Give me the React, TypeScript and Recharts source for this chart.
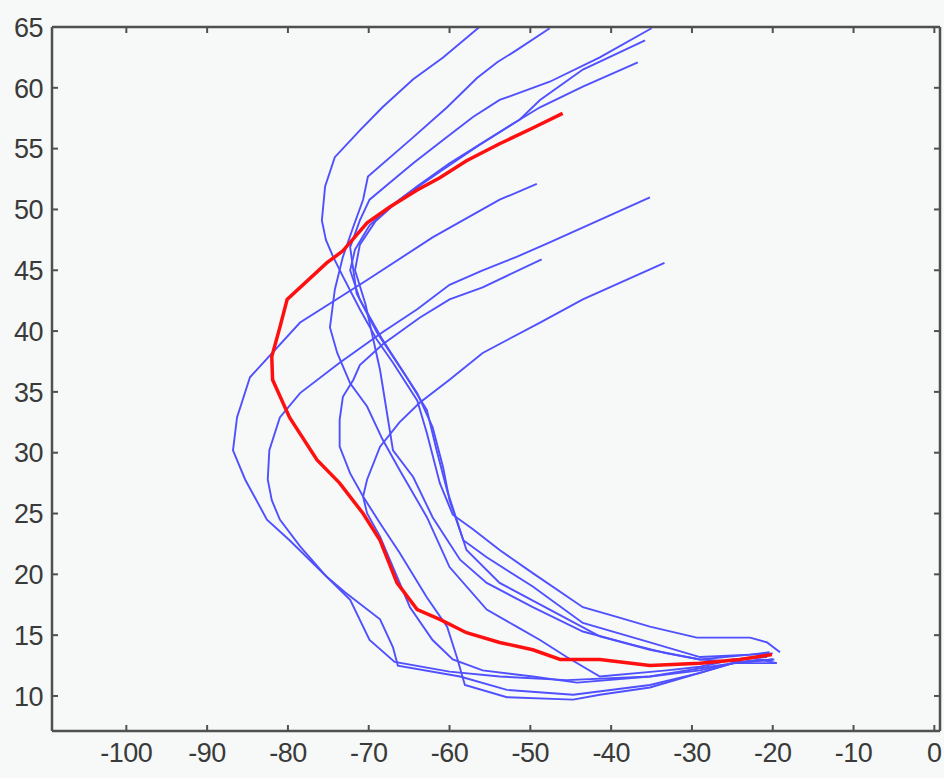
import React from 'react';
import { LineChart, Line, XAxis, YAxis } from 'recharts';

// storm tracks as [longitude, latitude] pairs
const track1: [number, number][] = [
  [-49.2, 52.1], [-53.8, 50.8], [-62.1, 47.7], [-70.2, 44.2], [-78.5, 40.7], [-84.7, 36.2],
  [-86.3, 32.9], [-86.8, 30.2], [-85.3, 27.8], [-82.6, 24.5], [-79.8, 22.8], [-75.2, 19.8],
  [-72.3, 17.9], [-69.9, 14.6], [-66.8, 12.8], [-60.0, 12.0], [-53.8, 11.6], [-45.5, 11.3],
  [-35.2, 11.6], [-29.0, 12.1], [-24.9, 12.7], [-20.0, 13.0],
];
const track2: [number, number][] = [
  [-35.2, 51.0], [-47.6, 47.3], [-51.7, 46.1], [-55.9, 45.0], [-60.0, 43.8], [-64.0, 41.8],
  [-68.3, 39.9], [-73.6, 37.4], [-78.5, 34.9], [-81.0, 32.9], [-82.3, 30.2], [-82.5, 27.8],
  [-82.0, 26.1], [-81.0, 24.5], [-78.5, 22.3], [-75.2, 19.8], [-72.9, 18.5], [-68.6, 16.3],
  [-67.0, 14.0], [-66.4, 12.5], [-58.7, 11.6], [-52.9, 10.5], [-44.7, 10.1], [-35.2, 10.9],
  [-29.0, 11.9], [-24.9, 12.7], [-20.0, 13.0],
];
const track3: [number, number][] = [
  [-48.6, 45.9], [-55.9, 43.6], [-60.0, 42.6], [-63.7, 41.1], [-68.3, 38.9], [-71.1, 37.2],
  [-71.9, 36.0], [-73.2, 34.6], [-73.6, 32.7], [-73.6, 30.5], [-72.3, 28.3], [-70.7, 26.4],
  [-68.6, 24.2], [-66.2, 21.8], [-62.8, 18.1], [-60.3, 15.7], [-59.1, 13.2], [-58.1, 10.9],
  [-52.9, 9.9], [-44.7, 9.7], [-41.4, 10.1], [-35.2, 10.7], [-29.0, 11.9], [-24.9, 12.7],
  [-21.6, 12.7], [-19.5, 12.7],
];
const track4: [number, number][] = [
  [-33.4, 45.6], [-43.5, 42.6], [-48.8, 40.7], [-55.9, 38.2], [-60.0, 36.0], [-63.7, 34.1],
  [-66.2, 32.5], [-68.6, 30.5], [-70.2, 27.8], [-70.7, 26.4], [-70.2, 25.0], [-68.6, 23.1],
  [-67.0, 20.6], [-64.9, 17.3], [-62.1, 14.6], [-59.6, 13.0], [-55.9, 12.1], [-49.7, 11.6],
  [-44.2, 11.1], [-35.2, 11.6], [-27.8, 12.4], [-21.6, 13.0], [-19.5, 12.7],
];
const track5: [number, number][] = [
  [-56.3, 65.0], [-60.8, 62.5], [-64.5, 60.7], [-68.3, 58.4], [-71.1, 56.5], [-74.2, 54.3],
  [-75.4, 51.9], [-75.8, 49.1], [-75.3, 47.5], [-74.4, 46.1], [-73.2, 44.5], [-71.1, 41.8],
  [-69.0, 39.3], [-67.0, 37.4], [-64.0, 34.3], [-62.8, 31.6], [-61.2, 27.5], [-59.6, 24.9],
  [-57.1, 23.7], [-53.8, 22.0], [-49.7, 20.1], [-43.5, 17.3], [-39.3, 16.5], [-35.2, 15.7],
  [-29.4, 14.8], [-22.8, 14.8], [-20.7, 14.4], [-19.1, 13.6],
];
const track6: [number, number][] = [
  [-47.6, 64.9], [-51.7, 63.1], [-54.1, 62.1], [-56.6, 60.8], [-60.3, 58.4], [-64.9, 55.7],
  [-70.1, 52.7], [-70.7, 50.8], [-71.9, 48.6], [-73.2, 46.1], [-74.2, 43.4], [-74.8, 40.3],
  [-73.9, 38.2], [-72.3, 35.7], [-70.2, 33.8], [-68.3, 31.1], [-66.2, 28.6], [-62.8, 24.7],
  [-60.0, 20.6], [-55.4, 17.1], [-51.7, 15.7], [-48.8, 14.6], [-45.5, 13.2], [-41.4, 11.6],
  [-33.1, 12.1], [-29.0, 12.4], [-24.9, 13.0], [-20.7, 13.2],
];
const track7: [number, number][] = [
  [-35.0, 64.9], [-41.4, 62.5], [-47.6, 60.5], [-53.8, 59.0], [-57.1, 57.6], [-60.8, 55.7],
  [-64.5, 53.8], [-67.4, 52.2], [-69.9, 50.8], [-71.1, 49.1], [-72.3, 46.9], [-71.5, 43.1],
  [-69.0, 39.9], [-66.2, 37.1], [-64.0, 34.9], [-62.1, 32.1], [-60.8, 28.8], [-60.0, 26.1],
  [-58.3, 22.8], [-55.4, 21.4], [-49.7, 19.0], [-43.5, 16.0], [-35.2, 14.4], [-29.0, 13.2],
  [-22.8, 13.4], [-20.0, 13.5],
];
const track8: [number, number][] = [
  [-35.8, 63.9], [-43.5, 61.5], [-48.8, 59.0], [-51.3, 57.4], [-55.4, 55.7], [-60.0, 53.8],
  [-64.0, 51.9], [-67.4, 50.2], [-69.9, 48.7], [-71.7, 46.7], [-72.3, 45.0], [-71.1, 42.6],
  [-68.3, 39.3], [-65.3, 36.2], [-62.8, 33.5], [-61.6, 30.2], [-60.3, 26.9], [-57.9, 22.0],
  [-53.8, 19.3], [-47.6, 17.1], [-41.4, 14.9], [-35.2, 13.8], [-29.0, 13.0], [-22.8, 13.4],
  [-20.4, 13.6],
];
const track9: [number, number][] = [
  [-36.7, 62.1], [-43.5, 60.1], [-48.8, 58.4], [-51.3, 57.4], [-56.3, 55.3], [-61.2, 53.1],
  [-66.2, 50.8], [-69.2, 49.0], [-71.1, 47.1], [-71.7, 45.0], [-70.4, 42.2], [-68.6, 36.8],
  [-67.0, 30.2], [-64.5, 28.0], [-62.1, 24.7], [-58.7, 21.2], [-55.4, 19.3], [-49.7, 17.3],
  [-43.5, 15.3], [-37.3, 14.2], [-33.1, 13.5], [-29.0, 13.0], [-24.1, 12.8], [-19.8, 13.0],
];
// highlighted track
const redTrack: [number, number][] = [
  [-46.0, 57.9], [-49.7, 56.7], [-53.8, 55.4], [-57.9, 54.0], [-61.2, 52.6], [-64.0, 51.6],
  [-67.4, 50.2], [-70.2, 48.9], [-73.2, 46.6], [-75.2, 45.6], [-80.1, 42.6], [-81.0, 40.3],
  [-82.0, 37.9], [-81.9, 36.0], [-79.8, 32.9], [-76.4, 29.4], [-73.6, 27.5], [-70.7, 25.0],
  [-68.6, 22.8], [-66.5, 19.3], [-64.0, 17.1], [-61.2, 16.3], [-57.9, 15.2], [-53.8, 14.4],
  [-49.7, 13.8], [-46.3, 13.0], [-41.4, 13.0], [-35.2, 12.5], [-29.0, 12.7], [-24.1, 13.0],
  [-20.1, 13.4],
];

const blueTracks = [track1, track2, track3, track4, track5, track6, track7, track8, track9];

const xTicks = [-100, -90, -80, -70, -60, -50, -40, -30, -20, -10, 0];
const yTicks = [10, 15, 20, 25, 30, 35, 40, 45, 50, 55, 60, 65];

const toPoints = (t: [number, number][]) => t.map(([x, y]) => ({ x, y }));

const axisColor = '#505050';
const labelColor = '#3a3a3a';
const font = 'Liberation Sans, Arial, sans-serif';
const TICK = 6;

// matlab-style ticks point into the plot box
const BottomTick = (p: any) => (
  <g>
    <line x1={p.x} x2={p.x} y1={p.y} y2={p.y - TICK} stroke={axisColor} strokeWidth={2} />
    <text x={p.x} y={p.y + 12} dy="0.72em" textAnchor="middle" fill={labelColor} fontSize={27} fontFamily={font} letterSpacing={-0.5}>
      {p.payload.value}
    </text>
  </g>
);
const LeftTick = (p: any) => (
  <g>
    <line x1={p.x} x2={p.x + TICK} y1={p.y} y2={p.y} stroke={axisColor} strokeWidth={2} />
    <text x={p.x - 9} y={p.y} dy="0.36em" textAnchor="end" fill={labelColor} fontSize={27} fontFamily={font} letterSpacing={-0.5}>
      {p.payload.value}
    </text>
  </g>
);
const TopTick = (p: any) => (
  <line x1={p.x} x2={p.x} y1={p.y} y2={p.y + TICK} stroke={axisColor} strokeWidth={2} />
);
const RightTick = (p: any) => (
  <line x1={p.x} x2={p.x - TICK} y1={p.y} y2={p.y} stroke={axisColor} strokeWidth={2} />
);

export default function App() {
  const xDomain = [-109.2, 0.7];
  const yDomain = [7.12, 65];

  return (
    <div style={{ position: 'absolute', left: 0, top: 0, width: 944, height: 778, background: '#f6f9f7' }}>
      <LineChart width={944} height={778} margin={{ top: 26, right: 3, bottom: 0, left: 0 }}>
        <XAxis
          xAxisId="b" dataKey="x" type="number" domain={xDomain} ticks={xTicks} allowDataOverflow
          height={47} stroke={axisColor} strokeWidth={2.5} tickLine={false} tickSize={0} tickMargin={0}
          tick={<BottomTick />} interval={0}
        />
        <XAxis
          xAxisId="t" orientation="top" dataKey="x" type="number" domain={xDomain} ticks={xTicks} allowDataOverflow
          height={1} stroke={axisColor} strokeWidth={2.5} tickLine={false} tickSize={0} tickMargin={0}
          tick={<TopTick />} interval={0}
        />
        <YAxis
          yAxisId="l" dataKey="y" type="number" domain={yDomain} ticks={yTicks} allowDataOverflow
          width={52} stroke={axisColor} strokeWidth={2.5} tickLine={false} tickSize={0} tickMargin={0}
          tick={<LeftTick />} interval={0}
        />
        <YAxis
          yAxisId="r" orientation="right" dataKey="y" type="number" domain={yDomain} ticks={yTicks} allowDataOverflow
          width={1} stroke={axisColor} strokeWidth={2.5} tickLine={false} tickSize={0} tickMargin={0}
          tick={<RightTick />} interval={0}
        />
        {/* invisible series so the box axes get drawn */}
        <Line
          xAxisId="t" yAxisId="r" data={toPoints(track1)} dataKey="y" stroke="none" dot={false}
          isAnimationActive={false} legendType="none"
        />
        {blueTracks.map((t, i) => (
          <Line
            key={i} xAxisId="b" yAxisId="l" data={toPoints(t)} dataKey="y" type="linear"
            stroke="#5050ff" strokeWidth={1.9} dot={false} isAnimationActive={false}
          />
        ))}
        <Line
          xAxisId="b" yAxisId="l" data={toPoints(redTrack)} dataKey="y" type="linear"
          stroke="#ff1010" strokeWidth={3.5} dot={false} isAnimationActive={false}
        />
      </LineChart>
    </div>
  );
}
